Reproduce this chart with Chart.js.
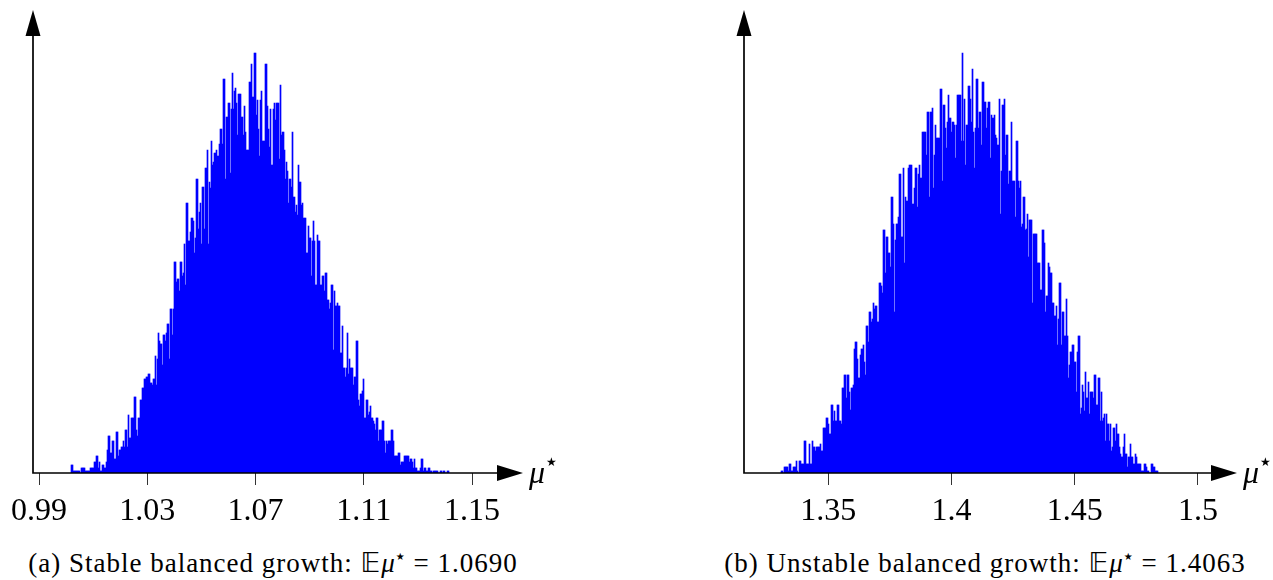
<!DOCTYPE html>
<html><head><meta charset="utf-8">
<script src="https://cdn.jsdelivr.net/npm/chart.js@4.4.1/dist/chart.umd.min.js"></script>
<style>
html,body{margin:0;padding:0;background:#fff;}
#page{position:relative;width:1273px;height:580px;overflow:hidden;font-family:'Liberation Serif';color:#000;}
.box{position:absolute;top:0;height:540px;}
.cap{position:absolute;top:549px;font-family:'Liberation Serif';font-size:27px;line-height:27px;white-space:nowrap;transform:translateX(-50%);letter-spacing:1px;}
.mu{position:absolute;top:456px;font-family:'Liberation Serif';font-size:32px;line-height:32px;white-space:nowrap;}
.it{font-style:italic;font-family:'Liberation Serif';}
.st{position:relative;font-family:'DejaVu Sans';}
.mu .st{font-size:12px;top:-17px;left:1px;}
.cap .st{font-size:10px;top:-12px;left:0px;}
.bb{font-family:'DejaVu Sans';}
</style></head>
<body>
<div id="page">
  <div class="box" style="left:0;width:640px;"><canvas id="cLeft"></canvas></div>
  <div class="box" style="left:700px;width:573px;"><canvas id="cRight"></canvas></div>
  <div class="mu" style="left:529px;"><span class="it">μ</span><span class="st">★</span></div>
  <div class="mu" style="left:1243px;"><span class="it">μ</span><span class="st">★</span></div>
  <div class="cap" style="left:273px;">(a) Stable balanced growth: <span class="bb">𝔼</span><span class="it">μ</span><span class="st">★</span> = 1.0690</div>
  <div class="cap" style="left:985px;">(b) Unstable balanced growth: <span class="bb">𝔼</span><span class="it">μ</span><span class="st">★</span> = 1.4063</div>
</div>
<script>
// ---- data (bin counts, arbitrary units) ----
const leftStart = 1.001803;
const leftBinWidth = 0.00036955;
const leftCounts = [
8,8,2,2,2,2,2,2,2,0,
5,5,5,5,2,2,2,2,2,5,
5,5,5,11,11,17,17,5,11,2,
2,8,8,5,5,11,23,37,37,20,
20,32,32,14,14,41,41,17,23,23,
26,26,32,26,43,43,26,58,35,35,
55,55,55,76,76,43,37,55,55,73,
73,85,85,94,94,96,96,99,99,90,
90,88,94,94,117,88,114,140,132,129,
129,108,138,138,132,140,149,149,114,164,
164,138,164,211,211,191,194,194,182,211,
211,197,200,229,188,270,270,232,232,241,
255,255,252,220,
235,294,294,244,261,270,229,286,286,244,
305,305,323,229,291,285,332,308,311,320,
320,323,317,317,329,344,344,329,394,394,
294,356,356,370,370,300,364,400,364,382,
385,370,338,379,379,379,356,356,338,367,
341,323,323,323,391,391,409,376,376,420,
420,358,373,344,317,373,382,332,332,332,
409,409,367,344,326,364,308,308,364,370,
353,370,370,370,314,388,338,341,341,323,
294,311,302,270,294,294,286,341,276,276,
261,268,258,308,291,291,268,270,255,255,
255,220,220,247,235,235,197,232,252,232,
188,188,238,232,232,188,188,197,197,182,
200,200,173,173,164,170,188,188,123,182,
167,167,170,167,167,120,120,147,105,105,
96,105,140,99,114,105,105,105,88,96,
96,132,132,73,67,79,79,82,94,55,
55,73,73,58,61,67,55,55,52,49,
43,55,55,32,43,43,43,52,52,32,
20,32,29,32,32,32,43,43,32,17,
17,17,17,20,20,8,11,11,11,17,
17,17,17,17,11,14,14,11,5,14,
5,5,2,2,2,5,14,14,2,5,
5,2,2,5,5,2,2,0,2,2,
2,2,2,0,0,2,2,0,2,2,
0,0,2,2
];
const leftTicks = [0.99, 1.03, 1.07, 1.11, 1.15];
const leftTickLabels = ['0.99', '1.03', '1.07', '1.11', '1.15'];
const leftRange = [0.987761, 1.168840];

const rightStart = 1.330852;
const rightBinWidth = 0.00040568;
const rightCounts = [
2,2,0,6,6,6,6,2,9,9,
2,2,6,6,6,12,2,0,12,12,
9,9,9,32,32,9,9,9,29,9,
9,32,26,26,22,26,26,26,26,29,
22,22,45,45,45,55,55,49,39,39,
68,68,52,62,52,52,68,68,52,52,
49,85,85,98,98,75,98,98,81,63,
85,85,88,124,131,131,114,95,95,118,
124,124,128,111,98,147,147,131,161,161,
151,154,170,164,167,167,151,151,190,190,
187,180,243,243,200,236,236,220,220,206,
276,276,249,161,233,249,249,256,299,299,
236,236,305,210,
276,272,272,305,308,308,308,269,269,285,
305,305,266,299,308,295,295,341,341,341,
341,318,361,361,276,361,361,365,285,318,
348,335,335,335,335,384,384,292,368,368,
345,325,351,378,355,355,341,351,351,348,
315,348,378,378,378,378,332,420,332,374,
308,348,348,387,387,374,351,404,341,305,
345,394,394,345,361,361,328,391,391,371,
371,345,365,371,371,315,358,355,355,358,
338,335,328,328,374,259,302,368,368,374,
318,338,338,289,302,302,351,292,292,292,
256,332,332,292,285,292,246,249,276,276,
243,244,259,216,253,253,253,170,239,239,
239,239,210,210,210,183,183,243,243,230,
161,177,177,210,206,200,200,170,170,157,
157,167,128,154,190,190,128,161,161,137,
137,174,137,95,108,121,121,128,128,111,
111,81,121,137,137,59,65,88,81,62,
101,75,75,91,59,81,81,81,75,98,
98,68,68,95,95,52,81,52,55,59,
32,59,49,49,32,49,22,26,45,45,
32,49,39,39,26,19,16,16,26,39,
19,19,6,16,16,29,16,16,9,9,
19,16,9,9,9,9,2,2,2,9,
9,6,2,2,0,0,9,9,6,6,
2,2,2
];
const rightTicks = [1.35, 1.4, 1.45, 1.5];
const rightTickLabels = ['1.35', '1.4', '1.45', '1.5'];
const rightRange = [1.315842, 1.515842];

const yMax = 463;

// ---- drawing ----
const arrowAxes = {
  id: 'arrowAxes',
  afterDatasetsDraw(chart) {
    const {ctx, chartArea} = chart;
    const {left, right, top, bottom} = chartArea;
    const L = 26, H = 8, W = 7.5;
    ctx.save();
    ctx.strokeStyle = '#000';
    ctx.fillStyle = '#000';
    ctx.lineWidth = 1.7;
    ctx.beginPath();
    ctx.moveTo(left, bottom); ctx.lineTo(right - L + 1, bottom);
    ctx.moveTo(left, bottom + 0.85); ctx.lineTo(left, top + L - 1);
    ctx.stroke();
    ctx.beginPath();
    ctx.moveTo(right, bottom); ctx.lineTo(right - L, bottom - H); ctx.lineTo(right - L, bottom + H);
    ctx.closePath(); ctx.fill();
    ctx.beginPath();
    ctx.moveTo(left, top); ctx.lineTo(left - W, top + L); ctx.lineTo(left + W, top + L);
    ctx.closePath(); ctx.fill();
    ctx.restore();
  }
};

function makeHist(id, start, width, counts, ticks, labels, range, padLeft, padRight) {
  const pts = counts.map((c, i) => ({x: start + (i + 0.5) * width, y: c}));
  return new Chart(document.getElementById(id), {
    type: 'bar',
    data: {datasets: [{
      data: pts,
      backgroundColor: '#0000ff',
      borderWidth: 0,
      barPercentage: 1,
      categoryPercentage: 1
    }]},
    options: {
      responsive: true,
      maintainAspectRatio: false,
      animation: false,
      devicePixelRatio: 1,
      layout: {padding: {left: padLeft, right: padRight, top: 10, bottom: 7}},
      plugins: {legend: {display: false}, tooltip: {enabled: false}},
      scales: {
        x: {
          type: 'linear',
          min: range[0],
          max: range[1],
          offset: false,
          afterBuildTicks: s => { s.ticks = ticks.map(v => ({value: v})); },
          afterFit: s => { s.height = 60; },
          grid: {display: true, drawOnChartArea: false, drawTicks: true, tickLength: 12, color: '#333', lineWidth: 1, offset: false},
          border: {display: false},
          ticks: {
            autoSkip: false, maxRotation: 0, minRotation: 0, padding: 7, color: '#000',
            font: {family: "'Liberation Serif'", size: 32},
            callback: (v, i) => labels[i]
          }
        },
        y: {display: false, min: 0, max: yMax}
      }
    },
    plugins: [arrowAxes]
  });
}

makeHist('cLeft', leftStart, leftBinWidth, leftCounts, leftTicks, leftTickLabels, leftRange, 33, 117);
makeHist('cRight', rightStart, rightBinWidth, rightCounts, rightTicks, rightTickLabels, rightRange, 44, 36);
</script>
</body></html>
